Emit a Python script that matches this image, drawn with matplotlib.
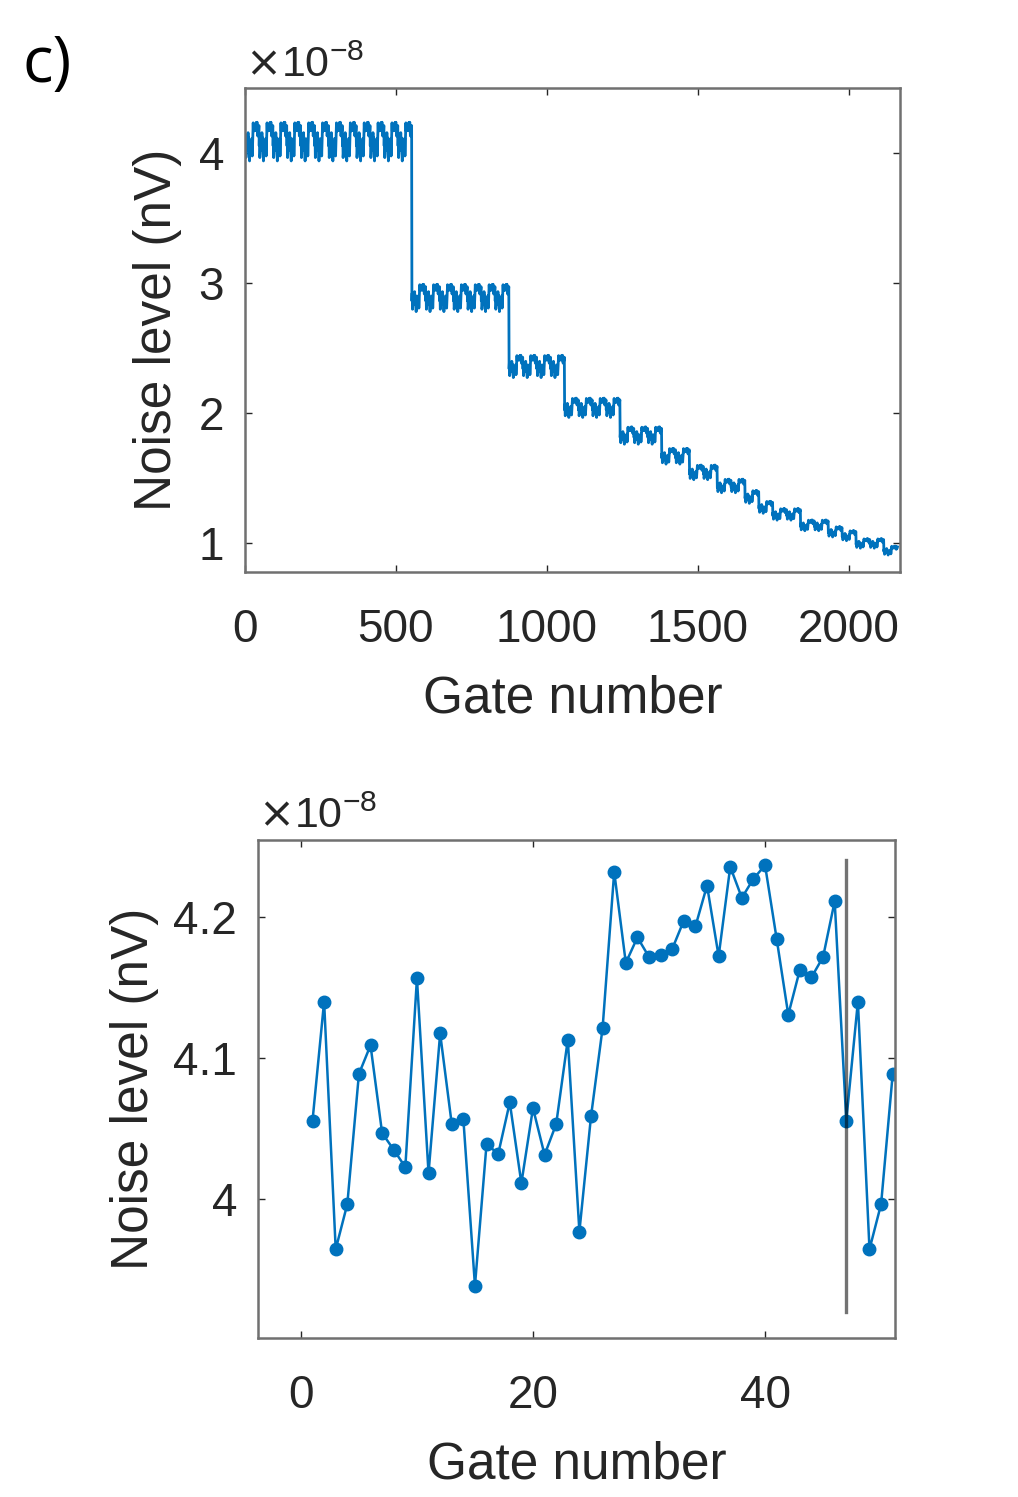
import numpy as np
import matplotlib
matplotlib.use("Agg")
import matplotlib.pyplot as plt

# noise level per gate, in units of 1e-8 (gates 1..51)
gate_noise = [4.0555, 4.140, 3.9645, 3.9965, 4.0887, 4.109, 4.0468, 4.035, 4.0227, 4.1564,
              4.0184, 4.1174, 4.0532, 4.0567, 3.9387, 4.0392, 4.0319, 4.0685, 4.0113, 4.0645,
              4.0314, 4.0532, 4.113, 3.977, 4.0586, 4.1213, 4.2319, 4.1674, 4.1855, 4.1716,
              4.1733, 4.1773, 4.1974, 4.1933, 4.2222, 4.1721, 4.2355, 4.2135, 4.2270, 4.2366,
              4.1844, 4.1307, 4.1626, 4.1572, 4.1716, 4.2111,
              4.0555, 4.140, 3.9645, 3.9965, 4.0887]
period = 46          # gate 47 starts the cycle again (grey marker line)
marker_gate = 47

# upper panel: steps, each made of whole cycles at a lower mean level
step_cycles = [12, 7, 4, 4, 3, 2, 2, 2, 1, 1, 2, 2, 1, 1, 2, 1]
step_levels = [4.11, 2.90, 2.37, 2.05, 1.835, 1.675, 1.55, 1.445, 1.36, 1.28,
               1.225, 1.14, 1.09, 1.06, 1.0, 0.945]

blue = "#0072BD"
frame = "#707070"
txt = "#262626"

plt.rcParams["font.family"] = ["Liberation Sans", "DejaVu Sans"]

# build the long trace from the cycle pattern
cycle = np.array(gate_noise[:period])
top_y = np.concatenate([cycle * lvl / step_levels[0]
                        for n, lvl in zip(step_cycles, step_levels)
                        for _ in range(n)])
top_x = np.arange(1, len(top_y) + 1)

fig = plt.figure(figsize=(10.18, 14.97), dpi=100)


def style(ax):
    for s in ax.spines.values():
        s.set_color(frame)
        s.set_linewidth(1.8)
    ax.tick_params(direction="in", length=5, width=1.0, colors=txt,
                   labelsize=33, top=True, right=True)
    ax.tick_params(axis="x", pad=26)
    ax.tick_params(axis="y", pad=15)


# -- upper panel
ax1 = fig.add_axes([0.2407, 0.6179, 0.6433, 0.3233])
ax1.plot(top_x, top_y, color=blue, lw=2.0)
ax1.set_xlim(0, 2170)
ax1.set_ylim(0.775, 4.5)
ax1.set_xticks([0, 500, 1000, 1500, 2000])
ax1.set_yticks([1, 2, 3, 4])
style(ax1)
ax1.set_xlabel("Gate number", fontsize=37, color=txt, labelpad=16)
ax1.set_ylabel("Noise level (nV)", fontsize=37, color=txt, labelpad=12)
ax1.text(0.0, 1.005, r"$\times$10$^{\mathregular{-8}}$", transform=ax1.transAxes,
         fontsize=31, color=txt, ha="left", va="bottom")

# -- lower panel
ax2 = fig.add_axes([0.2534, 0.1062, 0.6258, 0.3327])
gx = np.arange(1, len(gate_noise) + 1)
ax2.plot(gx, gate_noise, color=blue, lw=1.8, marker="o", ms=9)
ax2.plot([marker_gate, marker_gate], [3.92, 4.24], color="k", alpha=0.55, lw=2.4)
ax2.set_xlim(-3.7, 51.2)
ax2.set_ylim(3.9016, 4.2545)
ax2.set_xticks([0, 20, 40])
ax2.set_yticks([4.0, 4.1, 4.2])
ax2.set_yticklabels(["4", "4.1", "4.2"])
style(ax2)
ax2.set_xlabel("Gate number", fontsize=37, color=txt, labelpad=16)
ax2.set_ylabel("Noise level (nV)", fontsize=37, color=txt, labelpad=10)
ax2.text(0.0, 1.005, r"$\times$10$^{\mathregular{-8}}$", transform=ax2.transAxes,
         fontsize=31, color=txt, ha="left", va="bottom")

fig.text(0.022, 0.978, "c)", fontsize=46, family="Open Sans", ha="left", va="top")

fig.savefig("out.png", dpi=100)
